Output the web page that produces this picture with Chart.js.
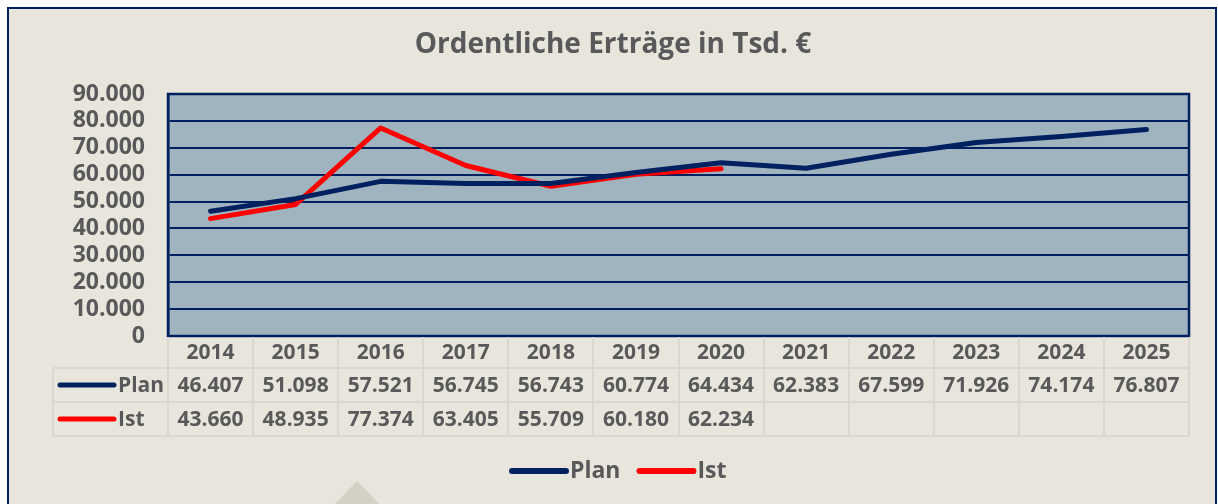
<!DOCTYPE html>
<html>
<head>
<meta charset="utf-8">
<script src="https://cdn.jsdelivr.net/npm/chart.js@4"></script>
<style>
  html, body { margin: 0; padding: 0; background: #ffffff; overflow: hidden; }
  canvas { display: block; }
</style>
</head>
<body>
<canvas id="chart" width="1218" height="504"></canvas>
<script>
// ---------- data (Tsd. €) ----------
const years = ["2014", "2015", "2016", "2017", "2018", "2019", "2020", "2021", "2022", "2023", "2024", "2025"];
const planValues = [46407, 51098, 57521, 56745, 56743, 60774, 64434, 62383, 67599, 71926, 74174, 76807];
const istValues = [43660, 48935, 77374, 63405, 55709, 60180, 62234, null, null, null, null, null];
const yMin = 0;
const yMax = 90000;
const yStep = 10000;

const titleText = "Ordentliche Erträge in Tsd. €";
const FONT = "'Open Sans', 'DejaVu Sans', sans-serif";
const TEXT = "#595959";
const NAVY = "#002060";
const RED = "#ff0000";
const CELL_LINE = "#d8d7d1";

// German thousands separator
function fmt(v) {
  if (v == null) return "";
  return String(Math.round(v)).replace(/\B(?=(\d{3})+(?!\d))/g, ".");
}

//
// ---------- frame, plot area, title ----------
//
const framePlugin = {
  id: "frame",
  beforeDraw(chart) {
    const ctx = chart.ctx;
    const a = chart.chartArea;
    ctx.save();
    ctx.fillStyle = "#ffffff";
    ctx.fillRect(0, 0, chart.width, chart.height);
    ctx.fillStyle = "#e8e6dc";
    ctx.fillRect(8, 8, 1208, 520);
    ctx.strokeStyle = NAVY;
    ctx.lineWidth = 2;
    ctx.strokeRect(8, 8, 1208, 520);

    // decorative tab at bottom
    ctx.fillStyle = "#d3d0c6";
    ctx.beginPath();
    ctx.moveTo(357, 481);
    ctx.lineTo(333, 506);
    ctx.lineTo(381, 506);
    ctx.closePath();
    ctx.fill();

    // plot background
    ctx.fillStyle = "#a0b4bf";
    ctx.fillRect(a.left, a.top, a.right - a.left, a.bottom - a.top);

    // title
    ctx.fillStyle = TEXT;
    ctx.font = "bold 28px " + FONT;
    ctx.textAlign = "center";
    ctx.textBaseline = "middle";
    ctx.fillText(titleText, 613, 45);
    ctx.restore();
  },
  beforeDatasetsDraw(chart) {
    const ctx = chart.ctx;
    const a = chart.chartArea;
    ctx.save();
    ctx.strokeStyle = NAVY;
    ctx.lineWidth = 2.5;
    ctx.strokeRect(a.left, a.top, a.right - a.left, a.bottom - a.top);
    ctx.restore();
  },
};

//
// ---------- data table + legend ----------
//
const tablePlugin = {
  id: "dataTable",
  afterDraw(chart) {
    const ctx = chart.ctx;
    const a = chart.chartArea;
    const xs = chart.scales.x;
    const n = chart.data.labels.length;
    const w = (a.right - a.left) / n;
    const labelLeft = 53;
    const headTop = a.bottom + 1;
    const headBottom = headTop + 31;
    const rowH = 34;
    const sets = chart.data.datasets;
    const tableBottom = headBottom + rowH * sets.length;

    ctx.save();
    ctx.strokeStyle = CELL_LINE;
    ctx.lineWidth = 2;

    // vertical lines
    for (let i = 0; i <= n; i++) {
      const x = Math.round(a.left + i * w);
      ctx.beginPath();
      ctx.moveTo(x, headTop);
      ctx.lineTo(x, tableBottom);
      ctx.stroke();
    }
    ctx.beginPath();
    ctx.moveTo(labelLeft, headBottom);
    ctx.lineTo(labelLeft, tableBottom);
    ctx.stroke();

    // horizontal lines
    for (let r = 0; r <= sets.length; r++) {
      const y = headBottom + r * rowH;
      ctx.beginPath();
      ctx.moveTo(labelLeft, y);
      ctx.lineTo(a.right, y);
      ctx.stroke();
    }

    ctx.fillStyle = TEXT;
    ctx.textBaseline = "middle";
    ctx.textAlign = "center";
    ctx.font = "bold 21px " + FONT;

    // header: years
    chart.data.labels.forEach((lab, i) => {
      ctx.fillText(lab, xs.getPixelForValue(i), (headTop + headBottom) / 2 + 1);
    });

    // rows
    sets.forEach((ds, r) => {
      const cy = headBottom + r * rowH + rowH / 2 + 1;
      ds.data.forEach((v, i) => {
        ctx.fillText(fmt(v), xs.getPixelForValue(i), cy);
      });
      // legend key in row label
      ctx.strokeStyle = ds.borderColor;
      ctx.lineWidth = 5;
      ctx.lineCap = "round";
      ctx.beginPath();
      ctx.moveTo(60, cy - 1);
      ctx.lineTo(114, cy - 1);
      ctx.stroke();
      ctx.textAlign = "left";
      ctx.fillText(ds.label, 118, cy);
      ctx.textAlign = "center";
    });

    // bottom legend
    const legendY = 471;
    let x = 512;
    ctx.font = "bold 23px " + FONT;
    ctx.textAlign = "left";
    sets.forEach((ds) => {
      ctx.strokeStyle = ds.borderColor;
      ctx.lineWidth = 6;
      ctx.lineCap = "round";
      ctx.beginPath();
      ctx.moveTo(x, legendY);
      ctx.lineTo(x + 54, legendY);
      ctx.stroke();
      ctx.fillText(ds.label, x + 58, legendY);
      x += 58 + ctx.measureText(ds.label).width + 19;
    });
    ctx.restore();
  },
};

new Chart(document.getElementById("chart"), {
  type: "line",
  data: {
    labels: years,
    datasets: [
      {
        label: "Plan",
        data: planValues,
        borderColor: NAVY,
        backgroundColor: NAVY,
        borderWidth: 5,
        pointRadius: 0,
        tension: 0,
        borderCapStyle: "round",
        borderJoinStyle: "round",
      },
      {
        label: "Ist",
        data: istValues,
        borderColor: RED,
        backgroundColor: RED,
        borderWidth: 5,
        pointRadius: 0,
        tension: 0,
        spanGaps: false,
        borderCapStyle: "round",
        borderJoinStyle: "round",
      },
    ],
  },
  options: {
    responsive: false,
    animation: false,
    devicePixelRatio: 1,
    layout: { padding: { left: 0, right: 29, top: 94, bottom: 168 } },
    plugins: {
      legend: { display: false },
      title: { display: false },
      tooltip: { enabled: false },
    },
    scales: {
      x: {
        type: "category",
        offset: true,
        display: false,
      },
      y: {
        min: yMin,
        max: yMax,
        afterFit(scale) {
          scale.width = 168;
        },
        ticks: {
          stepSize: yStep,
          autoSkip: false,
          padding: 23,
          color: TEXT,
          font: { family: FONT, size: 23, weight: "bold", lineHeight: 1 },
          callback: (v) => fmt(v),
        },
        grid: {
          color: NAVY,
          lineWidth: 2,
          drawTicks: false,
        },
        border: { display: true, color: NAVY, width: 2.5 },
      },
    },
  },
  plugins: [framePlugin, tablePlugin],
});
</script>
</body>
</html>
